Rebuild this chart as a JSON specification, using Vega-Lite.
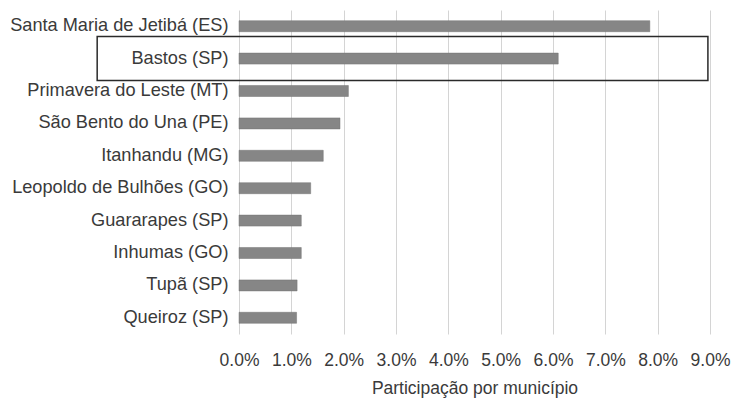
{
  "$schema": "https://vega.github.io/schema/vega-lite/v6.json",
  "width": 471,
  "height": 324,
  "autosize": {"type": "none"},
  "padding": {"left": 239, "top": 10, "right": 24, "bottom": 67},
  "background": "white",
  "config": {
    "view": {"stroke": null},
    "font": "Liberation Sans",
    "axis": {"labelFont": "Liberation Sans", "titleFont": "Liberation Sans", "labelColor": "#3a3a3a", "titleColor": "#3a3a3a"}
  },
  "datasets": {
    "main": [
      {"municipio": "Santa Maria de Jetibá (ES)", "participacao": 0.0785},
      {"municipio": "Bastos (SP)", "participacao": 0.0610},
      {"municipio": "Primavera do Leste (MT)", "participacao": 0.0209},
      {"municipio": "São Bento do Una (PE)", "participacao": 0.0193},
      {"municipio": "Itanhandu (MG)", "participacao": 0.0161},
      {"municipio": "Leopoldo de Bulhões (GO)", "participacao": 0.0137},
      {"municipio": "Guararapes (SP)", "participacao": 0.0119},
      {"municipio": "Inhumas (GO)", "participacao": 0.0119},
      {"municipio": "Tupã (SP)", "participacao": 0.0111},
      {"municipio": "Queiroz (SP)", "participacao": 0.0110}
    ],
    "destaque": [
      {"municipio": "Bastos (SP)", "inicio": -0.0271, "fim": 0.0896}
    ]
  },
  "layer": [
    {
      "data": {"name": "main"},
      "mark": {"type": "bar", "color": "#868686", "stroke": "#757575", "strokeWidth": 0.5},
      "encoding": {
        "y": {
          "field": "municipio",
          "type": "nominal",
          "sort": null,
          "scale": {"paddingInner": 0.66, "paddingOuter": 0.33},
          "axis": {
            "title": null,
            "domain": false,
            "ticks": false,
            "grid": false,
            "labelFontSize": 18.2,
            "labelPadding": 11,
            "labelLimit": 300
          }
        },
        "x": {
          "field": "participacao",
          "type": "quantitative",
          "scale": {"domain": [0, 0.09], "nice": false, "zero": true},
          "axis": {
            "title": "Participação por município",
            "format": ".1%",
            "values": [0, 0.01, 0.02, 0.03, 0.04, 0.05, 0.06, 0.07, 0.08, 0.09],
            "domain": false,
            "ticks": false,
            "grid": true,
            "gridColor": "#d4d4d4",
            "gridWidth": 1,
            "labelFontSize": 17.5,
            "labelPadding": 17,
            "labelFlush": false,
            "titleFontSize": 17.5,
            "titleFontWeight": "normal",
            "titlePadding": 11
          }
        }
      }
    },
    {
      "data": {"name": "destaque"},
      "mark": {"type": "bar", "filled": false, "stroke": "#2a2a2a", "strokeWidth": 1.5, "height": 44},
      "encoding": {
        "y": {"field": "municipio", "type": "nominal", "sort": null},
        "x": {"field": "inicio", "type": "quantitative"},
        "x2": {"field": "fim"}
      }
    }
  ]
}
